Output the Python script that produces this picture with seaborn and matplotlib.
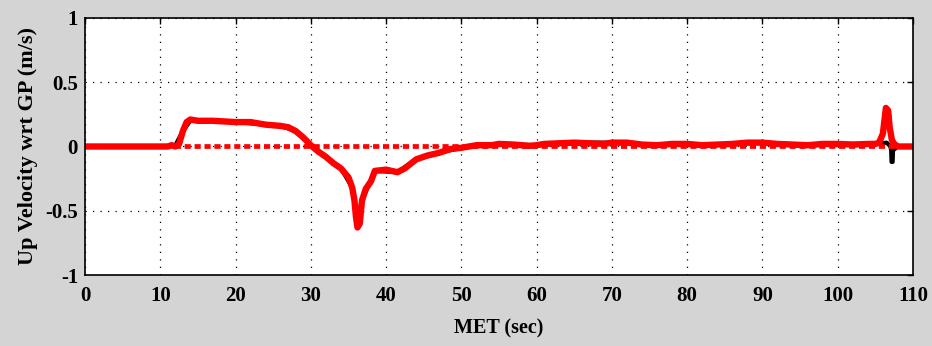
import matplotlib
matplotlib.use("Agg")
import matplotlib.pyplot as plt
import seaborn as sns
import pandas as pd

# Red trace (MET sec, up velocity m/s)
met_red = [0, 5, 10, 11, 11.5, 12, 12.5, 13, 13.5, 14, 15, 17, 20, 22, 24, 26, 27, 28, 29,
           30, 31, 32, 33, 34, 35, 35.5, 35.8, 36.0, 36.2, 36.5, 36.8, 37.3, 38, 38.5, 40,
           41.5, 42.5, 44, 45.5, 47, 48.5, 50, 51, 52, 54, 55, 57, 59, 60, 61, 63, 65, 67,
           69, 70, 72, 74, 76, 78, 80, 82, 84, 86, 88, 90, 92, 94, 96, 98, 100, 102, 104,
           105, 105.5, 106, 106.4, 106.7, 106.9, 107.2, 107.5, 108, 109, 110]
vel_red = [0.0, 0.0, 0.0, 0.0, 0.01, 0.0, 0.02, 0.12, 0.19, 0.21, 0.20, 0.20, 0.19, 0.19, 0.17,
           0.16, 0.15, 0.12, 0.07, 0.01, -0.04, -0.08, -0.13, -0.17, -0.24, -0.32, -0.42,
           -0.55, -0.63, -0.60, -0.42, -0.33, -0.27, -0.19, -0.18, -0.20, -0.17, -0.10, -0.07,
           -0.05, -0.02, -0.01, 0.0, 0.01, 0.01, 0.02, 0.015, 0.005, 0.01, 0.02, 0.025, 0.03,
           0.025, 0.02, 0.03, 0.03, 0.015, 0.01, 0.02, 0.02, 0.01, 0.015, 0.02, 0.03, 0.03,
           0.02, 0.015, 0.01, 0.02, 0.02, 0.015, 0.02, 0.02, 0.03, 0.10, 0.30, 0.28, 0.15,
           0.05, 0.02, 0.0, 0.0, 0.0]

# Black trace (mostly hidden under the red one)
met_black = [0, 10, 12, 13, 14, 20, 26, 28, 30, 32, 34, 35.5, 36.1, 36.8, 38.5, 41.5, 44, 47,
             50, 55, 60, 65, 70, 75, 80, 85, 90, 95, 100, 105, 106.5, 107.0, 107.1, 107.15,
             107.3, 107.35, 108, 110]
vel_black = [0.0, 0.0, 0.01, 0.12, 0.2, 0.19, 0.16, 0.12, 0.01, -0.08, -0.17, -0.32, -0.58,
             -0.42, -0.19, -0.2, -0.1, -0.05, -0.01, 0.02, 0.01, 0.03, 0.03, 0.015, 0.02,
             0.015, 0.03, 0.015, 0.02, 0.02, 0.03, 0.0, -0.03, -0.12, -0.12, -0.03, 0.0, 0.0]

xticks = [0, 10, 20, 30, 40, 50, 60, 70, 80, 90, 100, 110]
yticks = [-1, -0.5, 0, 0.5, 1]
ytick_labels = ["-1", "-0.5", "0", "0.5", "1"]
ref_x = [0, 110]
ref_y = [0, 0]

sns.set_style("white")
plt.rcParams["font.family"] = ["Liberation Serif", "DejaVu Serif"]
plt.rcParams["text.color"] = "black"
plt.rcParams["axes.labelcolor"] = "black"

fig = plt.figure(figsize=(9.32, 3.46), dpi=100, facecolor="#d4d4d4")
ax = fig.add_axes([0.0912, 0.2052, 0.8884, 0.7428])
ax.set_facecolor("white")

df_black = pd.DataFrame({"met": met_black, "vel": vel_black})
df_red = pd.DataFrame({"met": met_red, "vel": vel_red})
df_ref = pd.DataFrame({"met": ref_x, "vel": ref_y})

sns.lineplot(data=df_black, x="met", y="vel", ax=ax, color="black", lw=3.0,
             sort=False, estimator=None)
sns.lineplot(data=df_ref, x="met", y="vel", ax=ax, color="red", lw=3.4,
             linestyle=(0, (1.3, 0.8)), sort=False, estimator=None)
sns.lineplot(data=df_red, x="met", y="vel", ax=ax, color="red", lw=4.6,
             sort=False, estimator=None)

ax.set_xlim(0, 110)
ax.set_ylim(-1, 1)
ax.set_xticks(xticks)
ax.set_yticks(yticks)
ax.set_yticklabels(ytick_labels)
ax.grid(True, color="black", linestyle=(0, (1, 5)), linewidth=0.9)
ax.tick_params(direction="in", length=4, width=1, top=True, right=True,
               labelsize=15, colors="black")
ax.tick_params(axis="x", pad=8)
ax.tick_params(axis="y", pad=5)
for lab in ax.get_xticklabels() + ax.get_yticklabels():
    lab.set_fontweight("bold")
for s in ax.spines.values():
    s.set_visible(True)
    s.set_color("black")
    s.set_linewidth(1.2)
ax.set_xlabel("MET (sec)", fontsize=14.5, fontweight="bold", labelpad=9, color="black")
ax.set_ylabel("Up Velocity wrt GP (m/s)", fontsize=16, fontweight="bold", labelpad=5,
              color="black")

fig.savefig("out.png", dpi=100, facecolor=fig.get_facecolor())
